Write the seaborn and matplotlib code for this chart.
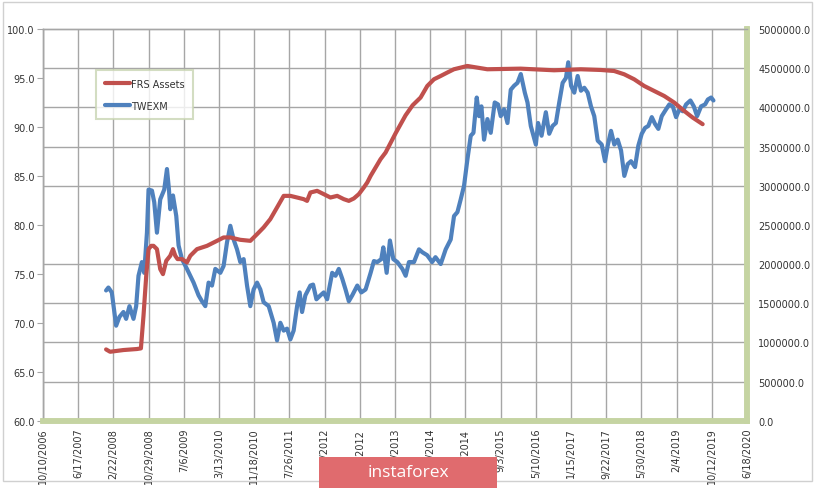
import numpy as np
import pandas as pd
import matplotlib
matplotlib.use("Agg")
import matplotlib.pyplot as plt
import matplotlib.dates as mdates
from matplotlib.patches import Rectangle
from matplotlib.lines import Line2D
import seaborn as sns

# ---------------- data (decimal years, values) ----------------
twexm_years = [
    2008.000, 2008.045, 2008.111, 2008.195, 2008.259, 2008.337, 2008.389, 2008.454, 2008.532, 2008.584,
    2008.629, 2008.695, 2008.740, 2008.793, 2008.824, 2008.890, 2008.935, 2008.987, 2009.051, 2009.129,
    2009.182, 2009.221, 2009.246, 2009.299, 2009.363, 2009.408, 2009.474, 2009.571, 2009.636, 2009.700,
    2009.797, 2009.863, 2009.928, 2009.992, 2010.058, 2010.123, 2010.220, 2010.284, 2010.350, 2010.415,
    2010.479, 2010.545, 2010.609, 2010.674, 2010.740, 2010.804, 2010.868, 2010.935, 2010.999, 2011.063,
    2011.161, 2011.258, 2011.324, 2011.388, 2011.453, 2011.519, 2011.583, 2011.647, 2011.714, 2011.764,
    2011.811, 2011.875, 2011.973, 2012.025, 2012.090, 2012.168, 2012.232, 2012.298, 2012.396, 2012.460,
    2012.524, 2012.591, 2012.655, 2012.719, 2012.785, 2012.883, 2012.961, 2013.044, 2013.142, 2013.206,
    2013.272, 2013.350, 2013.389, 2013.454, 2013.518, 2013.584, 2013.662, 2013.760, 2013.824, 2013.888,
    2013.986, 2014.083, 2014.149, 2014.242, 2014.339, 2014.404, 2014.506, 2014.603, 2014.700, 2014.765,
    2014.831, 2014.895, 2014.960, 2015.026, 2015.090, 2015.143, 2015.207, 2015.252, 2015.298, 2015.349,
    2015.415, 2015.479, 2015.557, 2015.621, 2015.674, 2015.738, 2015.805, 2015.869, 2015.933, 2015.999,
    2016.064, 2016.142, 2016.194, 2016.258, 2016.356, 2016.400, 2016.467, 2016.550, 2016.615, 2016.681,
    2016.745, 2016.810, 2016.876, 2016.940, 2016.985, 2017.040, 2017.102, 2017.168, 2017.232, 2017.297,
    2017.363, 2017.427, 2017.491, 2017.558, 2017.636, 2017.700, 2017.753, 2017.817, 2017.881, 2017.947,
    2018.012, 2018.076, 2018.142, 2018.206, 2018.284, 2018.349, 2018.415, 2018.479, 2018.543, 2018.610,
    2018.674, 2018.738, 2018.804, 2018.888, 2018.952, 2019.019, 2019.083, 2019.147, 2019.214, 2019.278,
    2019.362, 2019.428, 2019.492, 2019.570, 2019.648, 2019.701, 2019.765, 2019.810,
]
twexm_values = [
    73.3, 73.6, 73.1, 69.7, 70.6, 71.1, 70.4, 71.7, 70.4, 71.7,
    74.8, 76.2, 75.1, 79.2, 83.6, 83.5, 82.3, 79.2, 82.6, 83.6,
    85.7, 83.6, 81.6, 83.0, 80.9, 77.9, 76.5, 75.5, 74.8, 74.1,
    72.8, 72.2, 71.7, 74.1, 73.8, 75.5, 75.1, 75.8, 78.2, 79.9,
    78.5, 77.5, 76.2, 76.5, 73.8, 71.7, 73.4, 74.1, 73.4, 72.1,
    71.7, 70.0, 68.2, 70.0, 69.2, 69.4, 68.3, 69.2, 71.7, 73.1,
    71.1, 72.8, 73.8, 73.9, 72.4, 72.8, 73.1, 72.4, 75.1, 74.8,
    75.5, 74.5, 73.4, 72.2, 72.8, 73.8, 73.1, 73.4, 75.1, 76.3,
    76.2, 76.5, 77.7, 75.1, 78.4, 76.5, 76.2, 75.5, 74.8, 76.2,
    76.2, 77.5, 77.2, 76.9, 76.2, 76.7, 76.0, 77.5, 78.5, 80.9,
    81.3, 82.6, 84.0, 86.7, 89.1, 89.4, 93.0, 91.1, 92.1, 88.7,
    90.8, 89.4, 92.5, 92.3, 91.1, 91.8, 90.4, 93.8, 94.2, 94.5,
    95.4, 93.5, 92.5, 90.1, 88.2, 90.4, 89.1, 91.5, 89.3, 90.1,
    90.4, 92.5, 94.5, 95.0, 96.6, 94.2, 93.5, 95.2, 93.7, 94.0,
    93.5, 92.1, 91.1, 88.6, 88.2, 86.5, 88.1, 89.6, 88.2, 88.7,
    87.6, 85.0, 86.2, 86.5, 85.9, 88.1, 89.3, 89.9, 90.1, 91.0,
    90.3, 89.8, 91.1, 91.8, 92.3, 92.1, 91.0, 91.8, 91.6, 92.3,
    92.7, 92.1, 91.1, 92.1, 92.3, 92.8, 93.0, 92.7,
]

frs_years = [
    2008.000, 2008.078, 2008.337, 2008.598, 2008.676, 2008.726, 2008.779, 2008.824, 2008.876, 2008.921,
    2008.987, 2009.051, 2009.104, 2009.168, 2009.246, 2009.299, 2009.344, 2009.388, 2009.474, 2009.571,
    2009.636, 2009.766, 2009.961, 2010.156, 2010.284, 2010.415, 2010.609, 2010.804, 2010.935, 2011.063,
    2011.193, 2011.324, 2011.453, 2011.583, 2011.714, 2011.842, 2011.908, 2011.973, 2012.103, 2012.232,
    2012.362, 2012.493, 2012.621, 2012.719, 2012.816, 2012.913, 2013.010, 2013.077, 2013.142, 2013.239,
    2013.335, 2013.433, 2013.628, 2013.822, 2013.959, 2014.114, 2014.245, 2014.374, 2014.504, 2014.634,
    2014.763, 2015.024, 2015.413, 2016.061, 2016.710, 2017.229, 2017.619, 2017.878, 2018.073, 2018.268,
    2018.462, 2018.657, 2018.852, 2019.047, 2019.241, 2019.405, 2019.600,
]
frs_values = [
    910000, 880000, 902000, 915000, 923000, 1339000, 1849000, 2190000, 2232000, 2232000,
    2190000, 1935000, 1871000, 2041000, 2105000, 2190000, 2105000, 2063000, 2063000, 2020000,
    2105000, 2190000, 2232000, 2296000, 2339000, 2339000, 2309000, 2296000, 2381000, 2467000,
    2573000, 2722000, 2870000, 2870000, 2849000, 2828000, 2806000, 2913000, 2934000, 2892000,
    2849000, 2870000, 2828000, 2806000, 2837000, 2892000, 2977000, 3041000, 3125000, 3232000,
    3338000, 3423000, 3669000, 3898000, 4026000, 4125000, 4273000, 4358000, 4400000, 4444000,
    4486000, 4528000, 4486000, 4494000, 4473000, 4486000, 4477000, 4464000, 4422000, 4358000,
    4273000, 4209000, 4145000, 4061000, 3954000, 3870000, 3785000,
]

series_names = ["FRS Assets", "TWEXM"]
x_start, x_end, x_step_days = "2006-10-10", "2020-06-18", 250
left_ticks = [60, 65, 70, 75, 80, 85, 90, 95, 100]
right_ticks = [0, 500000, 1000000, 1500000, 2000000, 2500000, 3000000,
               3500000, 4000000, 4500000, 5000000]


def to_date(y):
    yr = int(np.floor(y))
    start = pd.Timestamp(yr, 1, 1)
    length = (pd.Timestamp(yr + 1, 1, 1) - start).days
    return start + pd.Timedelta(days=(y - yr) * length)


df_tw = pd.DataFrame({"date": [to_date(v) for v in twexm_years], "value": twexm_values})
df_frs = pd.DataFrame({"date": [to_date(v) for v in frs_years], "value": frs_values})

RED = "#C0504D"
BLUE = "#4F81BD"
GRID = "#A6A6A6"
GREEN = "#C5D4A2"
TXT = "#333333"

sns.set_style("white")
plt.rcParams["font.family"] = ["DejaVu Sans"]

fig = plt.figure(figsize=(8.15, 4.89), dpi=100)
fig.patch.set_facecolor("white")
ax = fig.add_axes([43 / 815, 1 - 421.7 / 489, 704 / 815, 391.7 / 489])
ax2 = ax.twinx()

sns.lineplot(data=df_tw, x="date", y="value", ax=ax, color=BLUE, linewidth=3.0,
             estimator=None, sort=False, legend=False)
sns.lineplot(data=df_frs, x="date", y="value", ax=ax2, color=RED, linewidth=3.0,
             estimator=None, sort=False, legend=False)

ax.set_zorder(ax2.get_zorder() - 1)
ax2.patch.set_visible(False)
ax.patch.set_facecolor("white")

xticks = pd.date_range(x_start, x_end, freq=f"{x_step_days}D")
ax.set_xlim(pd.Timestamp(x_start), pd.Timestamp(x_end))
ax.set_xticks(xticks)
ax.set_xticklabels([f"{d.month}/{d.day}/{d.year}" for d in xticks], rotation=90,
                   fontsize=7, color=TXT)
ax.set_ylim(60, 100)
ax.set_yticks(left_ticks)
ax.set_yticklabels([f"{v:.1f}" for v in left_ticks], fontsize=7, color=TXT)
# horizontal gridlines aligned with the secondary-axis ticks
ax.set_yticks([60 + 40 * v / 5000000 for v in right_ticks], minor=True)
ax.tick_params(axis="y", which="minor", length=0)
ax.tick_params(axis="y", which="major", length=4, color=GRID, pad=2, direction="out")
ax.tick_params(axis="x", length=0, pad=5)

ax2.set_ylim(0, 5000000)
ax2.set_yticks(right_ticks)
ax2.set_yticklabels([f"{v:.1f}" for v in right_ticks], fontsize=7, color=TXT)
ax2.tick_params(axis="y", length=0, pad=8)

ax.set_xlabel("")
ax.set_ylabel("")
ax2.set_ylabel("")
ax.grid(False)
ax.grid(True, axis="x", which="major", color=GRID, linewidth=1.0)
ax.grid(True, axis="y", which="minor", color=GRID, linewidth=1.0)
ax2.grid(False)

for a in (ax, ax2):
    for s in ("top", "left"):
        a.spines[s].set_color(GRID)
        a.spines[s].set_linewidth(1.0)
    for s in ("right", "bottom"):
        a.spines[s].set_color(GREEN)
        a.spines[s].set_linewidth(4.0)

handles = [Line2D([0], [0], color=RED, linewidth=3.0),
           Line2D([0], [0], color=BLUE, linewidth=3.0)]
leg = ax2.legend(handles, series_names, loc="upper left",
                 bbox_to_anchor=(0.075, 0.895), fontsize=7, frameon=True,
                 fancybox=False, handlelength=2.6, handletextpad=0.1,
                 labelspacing=1.2, borderpad=0.9, borderaxespad=0)
leg.get_frame().set_edgecolor("#C9D5B3")
leg.get_frame().set_linewidth(1.5)
for t in leg.get_texts():
    t.set_color(TXT)

# chart-area border
fig.patches.append(Rectangle((3 / 815, 1 - 482 / 489), 809 / 815, 479 / 489,
                             transform=fig.transFigure, fill=False,
                             edgecolor="#D0D0D0", linewidth=1.0, zorder=0))
# watermark banner
fig.patches.append(Rectangle((319 / 815, 0), 178 / 815, 31 / 489,
                             transform=fig.transFigure, facecolor="#E06B6E",
                             edgecolor="none", zorder=5))
fig.text(408 / 815, 1 - 473 / 489, "instaforex", color="white", fontsize=12.5,
         ha="center", va="center", family=["Open Sans", "DejaVu Sans"], zorder=6)

fig.savefig("out.png", dpi=100, facecolor="white")
